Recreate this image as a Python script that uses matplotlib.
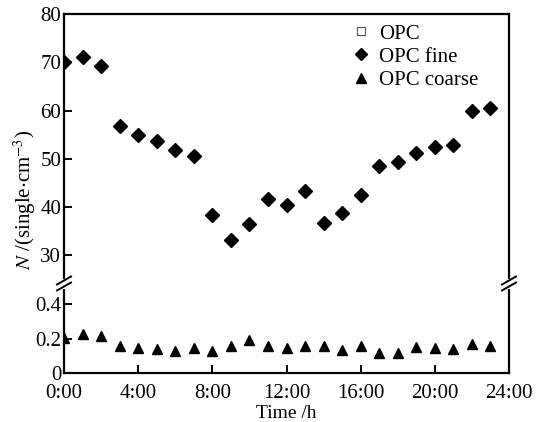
import matplotlib
matplotlib.use("Agg")
import matplotlib.pyplot as plt
from matplotlib.lines import Line2D
import numpy as np

hours = list(range(24))
opc_fine = [70.0, 71.1, 69.2, 56.8, 55.0, 53.8, 51.8, 50.7, 38.3, 33.3, 36.6,
            41.7, 40.4, 43.3, 36.8, 38.9, 42.5, 48.5, 49.3, 51.3, 52.4, 52.8,
            60.0, 60.5]
opc_coarse = [0.205, 0.225, 0.213, 0.155, 0.147, 0.140, 0.130, 0.147, 0.126,
              0.155, 0.190, 0.159, 0.147, 0.159, 0.159, 0.134, 0.155, 0.118,
              0.118, 0.150, 0.147, 0.140, 0.167, 0.155]
opc_total = [f + c for f, c in zip(opc_fine, opc_coarse)]
xtick_vals = [0, 4, 8, 12, 16, 20, 24]
xtick_labels = ["0:00", "4:00", "8:00", "12:00", "16:00", "20:00", "24:00"]
top_yticks = [30, 40, 50, 60, 70, 80]
bot_yticks = [0, 0.2, 0.4]
bot_ylabels = ["0", "0.2", "0.4"]

plt.rcParams["font.family"] = ["Liberation Serif", "DejaVu Serif"]
plt.rcParams["mathtext.fontset"] = "stix"

W, H = 537, 422
fig = plt.figure(figsize=(W / 100, H / 100), dpi=100)

left, right = 64 / W, 509 / W
top_px, brk_px, bot_px = 14, 283.5, 373
ax_top = fig.add_axes([left, 1 - brk_px / H, right - left, (brk_px - top_px) / H])
ax_bot = fig.add_axes([left, 1 - bot_px / H, right - left, (bot_px - brk_px) / H])

ms_d = 7.5
ms_t = 7.5
for ax in (ax_top, ax_bot):
    ax.plot(hours, opc_total, ls="none", marker="s", ms=4, mfc="white",
            mec="#555555", mew=0.8, zorder=2)
    ax.plot(hours, opc_fine, ls="none", marker="D", ms=ms_d, color="black", zorder=3)
    ax.plot(hours, opc_coarse, ls="none", marker="^", ms=ms_t, color="black", zorder=3)
    ax.set_xlim(0, 24)
    for s in ax.spines.values():
        s.set_linewidth(1.6)
    ax.tick_params(direction="in", length=6, width=1.4, labelsize=15,
                   top=False, right=False, pad=2)

ax_top.set_ylim(24.2, 80)
ax_top.set_yticks(top_yticks)
ax_top.set_xticks([])
ax_top.spines["bottom"].set_visible(False)

ax_bot.set_ylim(0, 0.519)
ax_bot.set_yticks(bot_yticks)
ax_bot.set_yticklabels(bot_ylabels)
ax_bot.set_xticks(xtick_vals)
ax_bot.set_xticklabels(xtick_labels)
ax_bot.tick_params(axis="x", pad=8)
ax_bot.spines["top"].set_visible(False)
ax_bot.set_xlabel("Time /h", fontsize=14, labelpad=1)

fig.text(25 / W, 1 - 200 / H, r"$N$ /(single$\cdot$cm$^{-3}$)", rotation=90,
         ha="center", va="center", fontsize=15)

# break marks
yb = 1 - brk_px / H
for xp in (64, 509):
    xc = xp / W
    dx = 7 / W
    dy = 4 / H
    off = 3.0 / H
    fig.add_artist(Line2D([xc, xc], [yb - off, yb + off], transform=fig.transFigure,
                          color="white", lw=3, zorder=10))
    for o in (-off, off):
        fig.add_artist(Line2D([xc - dx, xc + dx], [yb + o - dy, yb + o + dy],
                              transform=fig.transFigure, color="black", lw=1.4,
                              zorder=11))

handles = [
    Line2D([], [], ls="none", marker="s", ms=6, mfc="white", mec="#555555", mew=0.8),
    Line2D([], [], ls="none", marker="D", ms=6, color="black"),
    Line2D([], [], ls="none", marker="^", ms=7, color="black"),
]
leg = fig.legend(handles, ["OPC", "OPC fine", "OPC coarse"], loc="upper left",
                 bbox_to_anchor=(353 / W, 1 - 24 / H), frameon=False, fontsize=15,
                 handlelength=0.8, handletextpad=0.45, labelspacing=0.17,
                 borderpad=0, borderaxespad=0)

fig.savefig("out.png", dpi=100)
